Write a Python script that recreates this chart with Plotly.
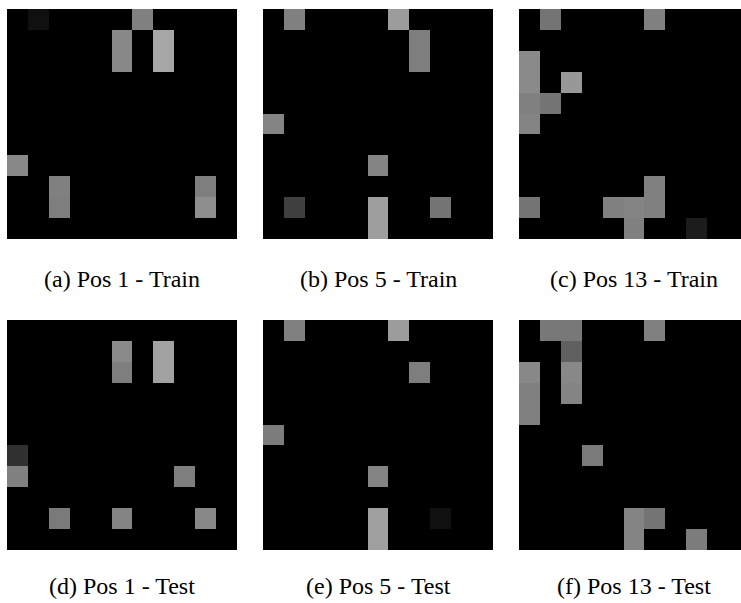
import plotly.graph_objects as go

N = 11  # grid size (cells per side)

# Non-black cells of each panel: (row, col, gray level 0-255); row 0 = top
cells_a = [(0, 1, 16), (0, 6, 128), (1, 5, 136), (2, 5, 136), (1, 7, 166), (2, 7, 166),
           (7, 0, 136), (8, 2, 128), (9, 2, 126), (8, 9, 126), (9, 9, 142)]
cells_b = [(0, 1, 128), (0, 6, 156), (1, 7, 126), (2, 7, 126), (5, 0, 132), (7, 5, 132),
           (9, 1, 64), (9, 5, 158), (10, 5, 158), (9, 8, 116)]
cells_c = [(0, 1, 116), (0, 6, 128), (2, 0, 138), (3, 0, 138), (3, 2, 152), (4, 0, 128),
           (4, 1, 116), (5, 0, 132), (8, 6, 128), (9, 0, 116), (9, 4, 128), (9, 5, 132),
           (9, 6, 128), (10, 5, 128), (10, 8, 28)]
cells_d = [(1, 5, 138), (2, 5, 126), (1, 7, 162), (2, 7, 162), (6, 0, 48), (7, 0, 128),
           (7, 8, 126), (9, 2, 122), (9, 5, 132), (9, 9, 136)]
cells_e = [(0, 1, 128), (0, 6, 156), (2, 7, 126), (5, 0, 124), (7, 5, 132), (9, 5, 160),
           (10, 5, 160), (9, 8, 16)]
cells_f = [(0, 1, 120), (0, 2, 120), (0, 6, 128), (1, 2, 96), (2, 0, 136), (2, 2, 136),
           (3, 0, 128), (3, 2, 132), (4, 0, 128), (6, 3, 122), (9, 5, 132), (9, 6, 116),
           (10, 5, 132), (10, 8, 124)]

captions = ["(a) Pos 1 - Train", "(b) Pos 5 - Train", "(c) Pos 13 - Train",
            "(d) Pos 1 - Test", "(e) Pos 5 - Test", "(f) Pos 13 - Test"]
panels = [cells_a, cells_b, cells_c, cells_d, cells_e, cells_f]

W, H = 741, 603
PX = 230                      # panel size in px
lefts = [7, 263, 519]
tops = [9, 320]
cap_y = [279, 586]
cell = PX / N


def grid(cells):
    z = [[0] * N for _ in range(N)]
    for r, c, v in cells:
        z[r][c] = v
    return z


fig = go.Figure()
for i, (cells, cap) in enumerate(zip(panels, captions)):
    row, col = divmod(i, 3)
    k = i + 1
    xa = "x" if k == 1 else f"x{k}"
    ya = "y" if k == 1 else f"y{k}"
    fig.add_trace(go.Heatmap(
        z=grid(cells), x=list(range(N)), y=list(range(N)),
        colorscale=[[0, "rgb(0,0,0)"], [1, "rgb(255,255,255)"]],
        zmin=0, zmax=255, showscale=False, xaxis=xa, yaxis=ya,
        hovertemplate="row %{y}, col %{x}: %{z}<extra></extra>"))
    left = lefts[col]
    right = min(left + PX, W)
    visible_cols = (right - left) / cell
    top = tops[row]
    axkey_x = "xaxis" if k == 1 else f"xaxis{k}"
    axkey_y = "yaxis" if k == 1 else f"yaxis{k}"
    fig.update_layout({
        axkey_x: dict(domain=[left / W, right / W], range=[-0.5, -0.5 + visible_cols],
                      showticklabels=False, showgrid=False, zeroline=False, ticks="",
                      anchor=ya, fixedrange=True),
        axkey_y: dict(domain=[1 - (top + PX) / H, 1 - top / H], range=[N - 0.5, -0.5],
                      showticklabels=False, showgrid=False, zeroline=False, ticks="",
                      anchor=xa, fixedrange=True),
    })
    fig.add_annotation(text=cap, xref="paper", yref="paper",
                       x=(left + PX / 2) / W, y=1 - cap_y[row] / H,
                       xanchor="center", yanchor="middle", showarrow=False,
                       font=dict(family="Liberation Serif", size=24, color="#000000"))

fig.update_layout(width=W, height=H, margin=dict(l=0, r=0, t=0, b=0),
                  paper_bgcolor="white", plot_bgcolor="black")

fig.write_html("out.html", config={"displayModeBar": False},
               post_script="document.body.style.margin='0';document.body.style.overflow='hidden';")
